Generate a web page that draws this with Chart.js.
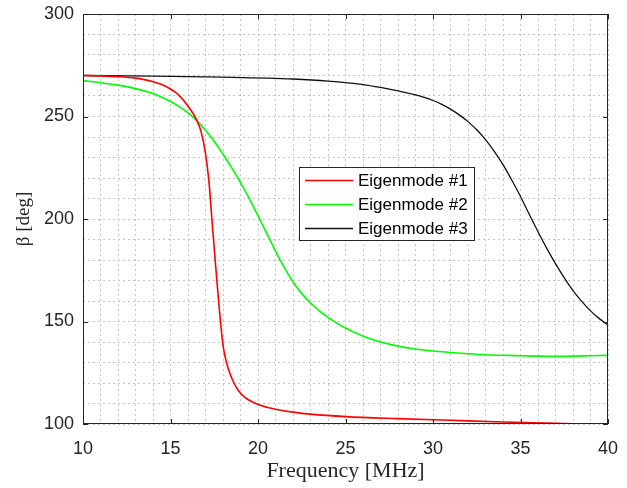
<!DOCTYPE html>
<html><head><meta charset="utf-8">
<script src="https://cdn.jsdelivr.net/npm/chart.js@4"></script>
<style>html,body{margin:0;padding:0;background:#fff}#wrap{width:627px;height:488px}</style>
</head><body><div id="wrap"><canvas id="c" width="627" height="488"></canvas></div>
<script>
const seriesLabels = ['Eigenmode #1', 'Eigenmode #2', 'Eigenmode #3'];
const seriesColors = ['#ff0000', '#00ff00', '#111111'];

const freq1 = [10, 11, 12, 13, 13.5, 14, 14.5, 15, 15.25, 15.5, 15.75, 16, 16.25, 16.5, 16.75, 17, 17.2, 17.4, 17.6, 17.8, 18, 18.2, 18.4, 18.6, 18.8, 19, 19.25, 19.5, 20, 20.5, 21, 22, 23, 25, 28, 31, 34, 37, 40];
const mode1 = [270, 269.8, 269.4, 268.7, 268, 267, 265.6, 263.4, 262, 260.2, 257.8, 255, 252, 248.2, 242.5, 232, 218, 196, 175, 155, 138.5, 130, 124.5, 120.5, 117.3, 115, 113, 111.6, 109.5, 108.2, 107.2, 105.8, 104.8, 103.6, 102.6, 101.8, 101, 100.3, 99.7];

const freq2 = [10, 11, 12, 13, 13.5, 14, 14.5, 15, 15.5, 16, 16.5, 17, 17.5, 18, 18.5, 19, 19.5, 20, 20.5, 21, 21.5, 22, 22.5, 23, 23.5, 24, 24.5, 25, 25.5, 26, 27, 28, 29, 30, 31, 32, 33, 34, 35, 36, 37, 38, 39, 40];
const mode2 = [267.5, 266.5, 265.3, 263.6, 262.5, 261.2, 259.4, 257.3, 254.8, 251.8, 248, 243.3, 237.8, 231.6, 224.9, 217.7, 209.9, 201.5, 193, 184.3, 176.3, 169.3, 163.6, 159, 155.2, 152, 149.2, 146.8, 144.7, 142.8, 140, 138, 136.6, 135.6, 134.9, 134.3, 133.8, 133.5, 133.3, 133.1, 133, 133.1, 133.3, 133.5];

const freq3 = [10, 14, 18, 22, 24, 26, 27, 28, 29, 29.5, 30, 30.5, 31, 31.5, 32, 32.5, 33, 33.5, 34, 34.5, 35, 35.5, 36, 36.5, 37, 37.5, 38, 38.5, 39, 39.5, 40];
const mode3 = [270, 269.7, 269.2, 268.3, 267.3, 265.6, 264.2, 262.5, 260.5, 259.3, 257.8, 255.9, 253.6, 250.8, 247.5, 243.5, 238.7, 233, 226.5, 219, 211, 202.3, 193.8, 185.7, 178.2, 171.3, 165.1, 159.8, 155.2, 151.4, 148.3];

const xTickLabels = [10, 15, 20, 25, 30, 35, 40];
const yTickLabels = [100, 150, 200, 250, 300];
const xMinorStep = 1;
const yMinorStep = 10;
const xTitle = 'Frequency [MHz]';
const yTitle = 'β [deg]';

const toPts = (xs, ys) => xs.map((x, i) => ({x: x, y: ys[i]}));
const allFreq = [freq1, freq2, freq3];
const allModes = [mode1, mode2, mode3];

const axisColor = '#262626';
const gridColor = '#c4c4c4';
const sansFont = '"Liberation Sans", Arial, sans-serif';
const serifFont = '"Liberation Serif", "DejaVu Serif", serif';

const framePlugin = {
  id: 'frame',
  afterDraw(chart) {
    const ctx = chart.ctx, a = chart.chartArea;
    const xs = chart.scales.x, ys = chart.scales.y;
    ctx.save();
    ctx.strokeStyle = axisColor;
    ctx.lineWidth = 1;
    ctx.setLineDash([]);
    ctx.strokeRect(Math.round(a.left) + 0.5, Math.round(a.top) + 0.5, Math.round(a.right - a.left) - 1, Math.round(a.bottom - a.top) - 1);
    const tl = 5;
    ctx.beginPath();
    xTickLabels.forEach(v => {
      const p = Math.round(xs.getPixelForValue(v)) + 0.5;
      ctx.moveTo(p, a.bottom); ctx.lineTo(p, a.bottom - tl);
      ctx.moveTo(p, a.top); ctx.lineTo(p, a.top + tl);
    });
    yTickLabels.forEach(v => {
      const p = Math.round(ys.getPixelForValue(v)) + 0.5;
      ctx.moveTo(a.left, p); ctx.lineTo(a.left + tl, p);
      ctx.moveTo(a.right, p); ctx.lineTo(a.right - tl, p);
    });
    ctx.stroke();

    // legend
    const bx = 299.5, by = 167.5, bw = 175, bh = 73;
    ctx.fillStyle = '#ffffff';
    ctx.fillRect(bx, by, bw, bh);
    ctx.strokeStyle = axisColor;
    ctx.strokeRect(bx, by, bw, bh);
    ctx.font = '17px ' + sansFont;
    ctx.textBaseline = 'middle';
    ctx.textAlign = 'left';
    chart.data.datasets.forEach((ds, i) => {
      const y = 180.5 + i * 24;
      ctx.strokeStyle = ds.borderColor;
      ctx.lineWidth = 1.5;
      ctx.beginPath(); ctx.moveTo(305, y); ctx.lineTo(353, y); ctx.stroke();
      ctx.fillStyle = '#000000';
      ctx.fillText(ds.label, 358, y + 1);
    });
    ctx.restore();
  }
};

new Chart(document.getElementById('c'), {
  type: 'line',
  data: {
    datasets: seriesLabels.map((lab, i) => ({
      label: lab,
      data: toPts(allFreq[i], allModes[i]),
      borderColor: seriesColors[i],
      backgroundColor: seriesColors[i],
      borderWidth: i === 2 ? 1.3 : 1.6,
      pointRadius: 0,
      fill: false,
      cubicInterpolationMode: 'monotone'
    }))
  },
  options: {
    responsive: false,
    animation: false,
    devicePixelRatio: 1,
    layout: {padding: {left: 0, top: 14, right: 19, bottom: 0}},
    plugins: {legend: {display: false}, tooltip: {enabled: false}},
    scales: {
      x: {
        type: 'linear', min: 10, max: 40,
        afterFit: s => { s.height = 64; s.paddingLeft = 0; s.paddingRight = 0; },
        afterBuildTicks: s => {
          const t = [];
          for (let v = 10; v <= 40; v += xMinorStep) t.push({value: v});
          s.ticks = t;
        },
        ticks: {
          autoSkip: false, maxRotation: 0, minRotation: 0, padding: 14,
          color: axisColor,
          font: {family: sansFont, size: 18},
          callback: v => xTickLabels.includes(v) ? String(v) : ''
        },
        grid: {color: gridColor, lineWidth: 1, drawTicks: false},
        border: {display: false, dash: [2, 3]},
        title: {display: true, text: xTitle, color: axisColor,
          font: {family: serifFont, size: 22},
          padding: {top: 0, bottom: 4}}
      },
      y: {
        type: 'linear', min: 100, max: 300,
        afterFit: s => { s.width = 83; s.paddingTop = 0; s.paddingBottom = 0; },
        afterBuildTicks: s => {
          const t = [];
          for (let v = 100; v <= 300; v += yMinorStep) t.push({value: v});
          s.ticks = t;
        },
        ticks: {
          autoSkip: false, padding: 9, color: axisColor,
          font: {family: sansFont, size: 18},
          callback: v => yTickLabels.includes(v) ? String(v) : ''
        },
        grid: {color: gridColor, lineWidth: 1, drawTicks: false},
        border: {display: false, dash: [2, 3]},
        title: {display: true, text: yTitle, color: axisColor,
          font: {family: serifFont, size: 19},
          padding: {top: 13, bottom: 0}}
      }
    }
  },
  plugins: [framePlugin]
});
</script></body></html>
